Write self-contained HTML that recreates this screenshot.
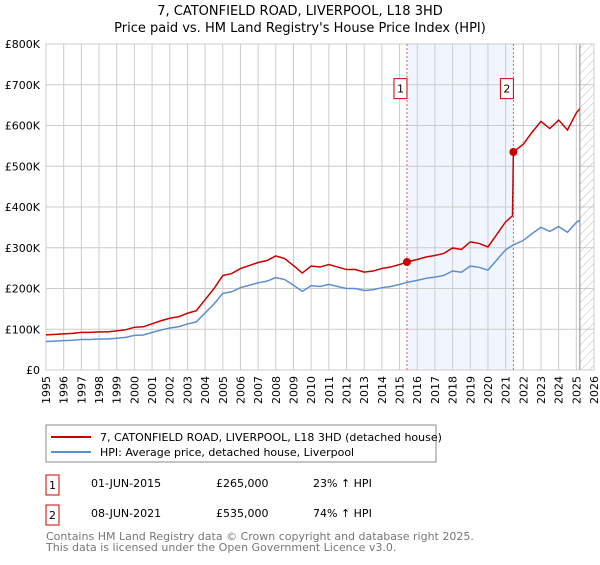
<!DOCTYPE html>
<html><head><meta charset="utf-8"><style>
body{margin:0;background:#fff;font-family:"Liberation Sans","DejaVu Sans",sans-serif;}
svg text{font-family:"DejaVu Sans","Liberation Sans",sans-serif;}
</style></head><body>
<svg id="chart" width="600" height="560" xmlns="http://www.w3.org/2000/svg">
<defs><pattern id="hatch" width="6" height="6" patternUnits="userSpaceOnUse" patternTransform="rotate(45)"><line x1="0" y1="0" x2="0" y2="6" stroke="#bbb" stroke-width="1"/></pattern></defs>
<text x="300" y="15" text-anchor="middle" font-size="13" fill="#000">7, CATONFIELD ROAD, LIVERPOOL, L18 3HD</text>
<text x="300" y="32" text-anchor="middle" font-size="13" fill="#000">Price paid vs. HM Land Registry's House Price Index (HPI)</text>
<g id="plot"></g>
<g>
<rect x="46" y="425" width="390" height="37" fill="#fff" stroke="#888"/>
<line x1="51" y1="437" x2="91" y2="437" stroke="#cc0000" stroke-width="2"/>
<text x="100" y="441" font-size="11">7, CATONFIELD ROAD, LIVERPOOL, L18 3HD (detached house)</text>
<line x1="51" y1="452" x2="91" y2="452" stroke="#5b8fd0" stroke-width="2"/>
<text x="100" y="456" font-size="11">HPI: Average price, detached house, Liverpool</text>
</g>
<g font-size="11">
<rect x="46" y="475" width="13" height="20" fill="#fff" stroke="#cc0000"/><text x="52.5" y="489" text-anchor="middle">1</text>
<text x="91" y="487">01-JUN-2015</text><text x="216" y="487">£265,000</text><text x="313" y="487">23% ↑ HPI</text>
<rect x="46" y="505" width="13" height="20" fill="#fff" stroke="#cc0000"/><text x="52.5" y="519" text-anchor="middle">2</text>
<text x="91" y="517">08-JUN-2021</text><text x="216" y="517">£535,000</text><text x="313" y="517">74% ↑ HPI</text>
</g>
<text x="46" y="540" font-size="11" fill="#777">Contains HM Land Registry data © Crown copyright and database right 2025.</text>
<text x="46" y="551" font-size="11" fill="#777">This data is licensed under the Open Government Licence v3.0.</text>
</svg>
<script>
const hpiYears=[1995,1995.5,1996,1996.5,1997,1997.5,1998,1998.5,1999,1999.5,2000,2000.5,2001,2001.5,2002,2002.5,2003,2003.5,2004,2004.5,2005,2005.5,2006,2006.5,2007,2007.5,2008,2008.5,2009,2009.5,2010,2010.5,2011,2011.5,2012,2012.5,2013,2013.5,2014,2014.5,2015,2015.42,2016,2016.5,2017,2017.5,2018,2018.5,2019,2019.5,2020,2020.5,2021,2021.44,2022,2022.5,2023,2023.5,2024,2024.5,2025,2025.2];
const hpiValues=[70,71,72,73,75,75,76,76,78,80,85,86,92,98,103,106,113,118,140,162,188,192,202,208,214,218,227,222,208,193,207,205,210,205,200,200,195,197,202,205,210,215,220,225,228,232,243,240,255,252,245,270,295,307,318,335,350,340,352,338,362,368];
const saleYears=[2015.42,2021.44];
const salePrices=[265,535];
const yTicks=[0,100,200,300,400,500,600,700,800];
const yTickLabels=["£0","£100K","£200K","£300K","£400K","£500K","£600K","£700K","£800K"];
const xTicks=[1995,1996,1997,1998,1999,2000,2001,2002,2003,2004,2005,2006,2007,2008,2009,2010,2011,2012,2013,2014,2015,2016,2017,2018,2019,2020,2021,2022,2023,2024,2025,2026];
const x0=46,x1=594,yTop=44,yBot=370;
const X=t=>x0+(t-1995)/(2026-1995)*(x1-x0);
const Y=v=>yBot-v/800*(yBot-yTop);
const NS="http://www.w3.org/2000/svg";
const g=document.getElementById('plot');
function el(tag,attrs){const e=document.createElementNS(NS,tag);for(const k in attrs)e.setAttribute(k,attrs[k]);g.appendChild(e);return e;}
let r=el('rect',{x:X(saleYears[0]),y:yTop,width:X(saleYears[1])-X(saleYears[0]),height:yBot-yTop,fill:'#eef3fc',opacity:0.8});


xTicks.forEach(t=>{const l=el('line',{x1:X(t),x2:X(t),y1:yTop,y2:yBot,stroke:'#ccc'});


const tx=el('text',{x:0,y:0,'font-size':11,'text-anchor':'end',transform:`translate(${X(t)+4},${yBot+6}) rotate(-90)`});tx.textContent=t;

});
yTicks.forEach((v,i)=>{const l=el('line',{x1:x0,x2:x1,y1:Y(v),y2:Y(v),stroke:'#ccc'});


const tx=el('text',{x:x0-6,y:Y(v)+4,'font-size':11,'text-anchor':'end'});tx.textContent=yTickLabels[i];

});
const hx=X(2025.2);
const h=el('rect',{x:hx,y:yTop,width:x1-hx,height:yBot-yTop,fill:'url(#hatch)'});


const vl=el('line',{x1:hx,x2:hx,y1:yTop,y2:yBot,stroke:'#888','stroke-width':1});


const ax=el('rect',{x:x0,y:yTop,width:x1-x0,height:yBot-yTop,fill:'none',stroke:'#ccc'});


function hpiAt(t){for(let i=1;i<hpiYears.length;i++){if(t<=hpiYears[i]){const f=(t-hpiYears[i-1])/(hpiYears[i]-hpiYears[i-1]);return hpiValues[i-1]+f*(hpiValues[i]-hpiValues[i-1]);}}return hpiValues[hpiValues.length-1];}
saleYears.forEach((t,i)=>{const l=el('line',{x1:X(t),x2:X(t),y1:yTop,y2:yBot,stroke:'#e06666','stroke-dasharray':'2,2'});

});
const hp=el('polyline',{points:hpiYears.map((t,i)=>X(t)+','+Y(hpiValues[i])).join(' '),fill:'none',stroke:'#5b8fd0','stroke-width':1.5});


const pts=[];
hpiYears.forEach((t,i)=>{let k=t<saleYears[1]?0:1;const v=salePrices[k]*hpiValues[i]/hpiAt(saleYears[k]);if(k===1&&pts.length&&pts[pts.length-1][0]<saleYears[1]){const pv=salePrices[0]*hpiAt(saleYears[1])/hpiAt(saleYears[0]);pts.push([saleYears[1]-0.05,pv]);}pts.push([t,v]);});
const pp=el('polyline',{points:pts.map(p=>X(p[0])+','+Y(p[1])).join(' '),fill:'none',stroke:'#cc0000','stroke-width':1.5});


saleYears.forEach((t,i)=>{const c=el('circle',{cx:X(t),cy:Y(salePrices[i]),r:4,fill:'#cc0000'});


const b=el('rect',{x:X(t)-13,y:Y(715),width:13,height:20,fill:'#fff',stroke:'#cc0000'});


const tx=el('text',{x:X(t)-6.5,y:Y(715)+14,'font-size':11,'text-anchor':'middle'});tx.textContent=String(i+1);

});
</script>
</body></html>
